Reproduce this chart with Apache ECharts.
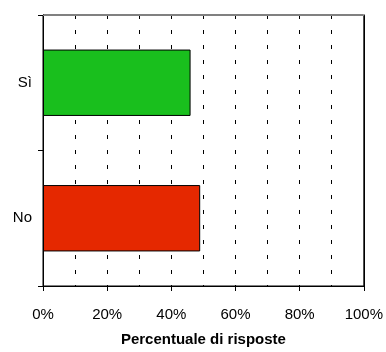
<!DOCTYPE html>
<html>
<head>
<meta charset="utf-8">
<script src="https://cdn.jsdelivr.net/npm/echarts@6/dist/echarts.min.js"></script>
<style>
  html, body { margin: 0; padding: 0; background: #fff; }
  #chart { width: 386px; height: 352px; }
</style>
</head>
<body>
<div id="chart"></div>
<script>
// categories bottom -> top (ECharts draws the first category at the bottom)
const categories = ["No", "Sì"];
const values = [49, 46];
const barColors = ["#e52800", "#19bf1d"];
const xMin = 0;
const xMax = 100;

const chart = echarts.init(document.getElementById("chart"));
const font = "'Liberation Sans', Arial, Helvetica, sans-serif";

const option = {
  animation: false,
  grid: {
    left: 43, right: 21, top: 15, bottom: 64, containLabel: false,
    show: true, borderColor: "#000", borderWidth: 1, backgroundColor: "transparent"
  },
  xAxis: [
    {
      type: "value",
      min: xMin,
      max: xMax,
      interval: 20,
      position: "bottom",
      name: "Percentuale di risposte",
      nameLocation: "middle",
      nameGap: 46,
      nameTextStyle: { fontFamily: font, fontSize: 15, fontWeight: "bold", color: "#000" },
      axisLine: { show: true, onZero: false, lineStyle: { color: "#000", width: 1 } },
      axisTick: { show: true, length: 5, lineStyle: { color: "#000" } },
      axisLabel: {
        margin: 21,
        fontFamily: font,
        fontSize: 15,
        color: "#000",
        formatter: (v) => v + "%"
      },
      splitLine: { show: true, lineStyle: { color: "#000", width: 1, type: [4, 11] } },
      minorTick: { show: false, splitNumber: 2 },
      minorSplitLine: { show: true, lineStyle: { color: "#000", width: 1, type: [4, 11] } }
    },
    {
      // top border of the plot (grey)
      type: "value",
      min: xMin,
      max: xMax,
      position: "top",
      axisLine: { show: true, onZero: false, lineStyle: { color: "#808080", width: 1 } },
      axisTick: { show: false },
      axisLabel: { show: false },
      splitLine: { show: false }
    }
  ],
  yAxis: [
    {
      type: "category",
      data: categories,
      axisLine: { show: true, onZero: false, lineStyle: { color: "#000", width: 1 } },
      axisTick: { show: true, length: 5, lineStyle: { color: "#000" } },
      axisLabel: { margin: 11, fontFamily: font, fontSize: 15, color: "#000" },
      splitLine: { show: false }
    },
    {
      type: "category",
      data: categories,
      position: "right",
      axisLine: { show: true, onZero: false, lineStyle: { color: "#000", width: 1 } },
      axisTick: { show: false },
      axisLabel: { show: false },
      splitLine: { show: false }
    }
  ],
  series: [
    {
      type: "bar",
      xAxisIndex: 0,
      yAxisIndex: 0,
      barWidth: "49%",
      data: values.map((v, i) => ({
        value: v,
        itemStyle: { color: barColors[i], borderColor: "#000", borderWidth: 1 }
      })),
      z: 3
    },
    {
      // keeps the border axes alive, draws nothing
      type: "line",
      xAxisIndex: 1,
      yAxisIndex: 1,
      data: [],
      silent: true
    }
  ]
};

chart.setOption(option);
</script>
</body>
</html>
